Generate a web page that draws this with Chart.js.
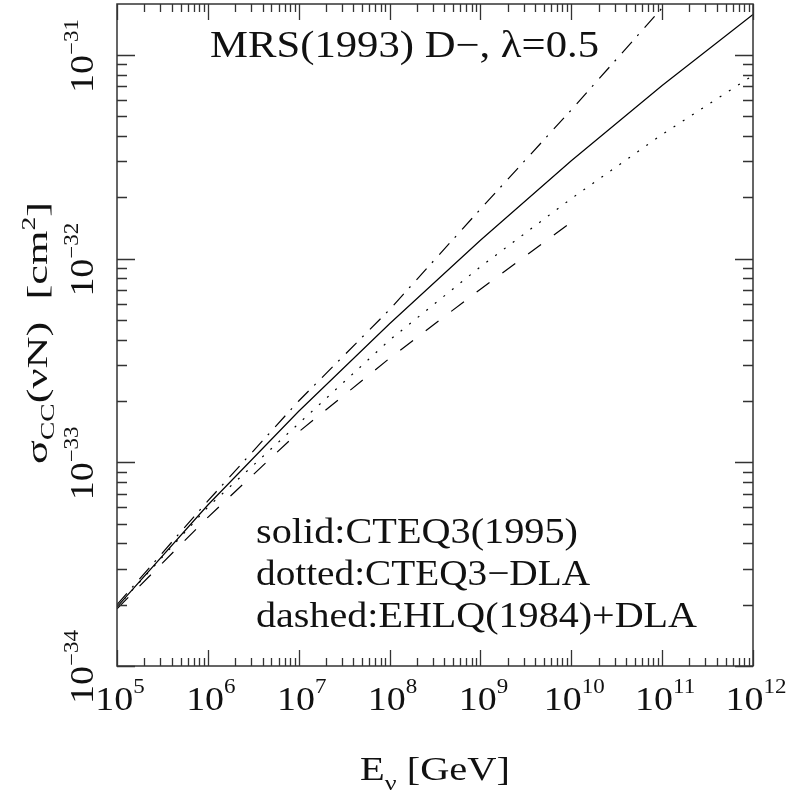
<!DOCTYPE html>
<html><head><meta charset="utf-8">
<script src="https://cdn.jsdelivr.net/npm/chart.js@4.4.1/dist/chart.umd.min.js"></script>
<style>html,body{margin:0;padding:0;background:#fff;}canvas{display:block;}</style>
</head><body>
<canvas id="c" width="803" height="792"></canvas>
<script>
// ---- data ----
const energies = [1e5, 1e6, 1e7, 1e8, 1e9, 1e10, 1e11, 1e12];
const solidCTEQ3 = [1.95e-34, 6.17e-34, 1.78e-33, 4.79e-33, 1.23e-32, 3.02e-32, 7.08e-32, 1.58e-31];
const dashDotMRS = [2.00e-34, 6.46e-34, 2.00e-33, 5.62e-33, 1.75e-32, 5.37e-32, 1.70e-31, 5.20e-31];
const dottedCTEQ3DLA = [1.95e-34, 6.03e-34, 1.55e-33, 3.98e-33, 9.12e-33, 1.97e-32, 4.07e-32, 7.94e-32];
const dashedEHLQ = [1.91e-34, 5.37e-34, 1.41e-33, 3.24e-33, 7.08e-33, 1.51e-32];
const xTickExps = [5, 6, 7, 8, 9, 10, 11, 12];
const yTickExps = [-34, -33, -32, -31];
const titleText = 'MRS(1993) D\u2212, \u03bb=0.5';
const legendLines = ['solid:CTEQ3(1995)', 'dotted:CTEQ3\u2212DLA', 'dashed:EHLQ(1984)+DLA'];
const xMin = 1e5, xMax = 1e12, yMin = 1e-34, yMax = 1.778e-31;

const FONT = '"Liberation Serif", "DejaVu Serif", serif';
const INK = '#111';

function toPts(arr) { return arr.map((v, i) => ({ x: energies[i], y: v })); }
function logTicks(min, max) {
  const out = [];
  const e0 = Math.floor(Math.log10(min)) - 1, e1 = Math.ceil(Math.log10(max)) + 1;
  for (let e = e0; e <= e1; e++) {
    for (let m = 1; m < 10; m++) {
      const v = m * Math.pow(10, e);
      if (v >= min * 0.9999 && v <= max * 1.0001) out.push({ value: v, major: m === 1 });
    }
  }
  return out;
}
function expStr(e) { return e < 0 ? '\u2212' + Math.abs(e) : String(e); }

// rich text: segs = [{t, size, dy}]
function drawRich(ctx, segs, x, y, o) {
  o = o || {};
  let total = 0;
  const widths = segs.map(s => { ctx.font = s.size + 'px ' + FONT; const w = ctx.measureText(s.t).width; total += w; return w; });
  const sx = o.width ? o.width / total : (o.sx || 1);
  ctx.save();
  ctx.translate(x, y);
  ctx.rotate(o.rot || 0);
  ctx.scale(sx, 1);
  let cx = o.align === 'center' ? -total / 2 : 0;
  ctx.fillStyle = INK;
  ctx.textBaseline = 'alphabetic';
  ctx.textAlign = 'left';
  segs.forEach((s, i) => { ctx.font = s.size + 'px ' + FONT; ctx.fillText(s.t, cx, s.dy || 0); cx += widths[i]; });
  ctx.restore();
}

const framePlugin = {
  id: 'frame',
  afterDraw(chart) {
    const ctx = chart.ctx, ca = chart.chartArea;
    const xs = chart.scales.x, ys = chart.scales.y;
    ctx.save();
    ctx.strokeStyle = '#333';
    ctx.lineWidth = 1.5;
    ctx.strokeRect(ca.left, ca.top, ca.right - ca.left, ca.bottom - ca.top);
    ctx.lineWidth = 1.3;
    ctx.beginPath();
    xs.ticks.forEach(t => {
      const p = Math.round(xs.getPixelForValue(t.value)) + 0.5;
      const L = t.major ? 16 : 8;
      ctx.moveTo(p, ca.bottom); ctx.lineTo(p, ca.bottom - L);
      ctx.moveTo(p, ca.top); ctx.lineTo(p, ca.top + L);
    });
    ys.ticks.forEach(t => {
      const p = Math.round(ys.getPixelForValue(t.value)) + 0.5;
      const L = t.major ? 18 : 10;
      ctx.moveTo(ca.left, p); ctx.lineTo(ca.left + L, p);
      ctx.moveTo(ca.right, p); ctx.lineTo(ca.right - L, p);
    });
    ctx.stroke();
    ctx.restore();

    // x tick labels
    xTickExps.forEach(e => {
      const p = xs.getPixelForValue(Math.pow(10, e));
      drawRich(ctx, [{ t: '10', size: 33 }, { t: expStr(e), size: 20, dy: -17 }], p + 3, ca.bottom + 44, { align: 'center', sx: 1.15 });
    });
    // y tick labels (rotated)
    yTickExps.forEach(e => {
      const p = ys.getPixelForValue(Math.pow(10, e));
      drawRich(ctx, [{ t: '10', size: 33 }, { t: expStr(e), size: 20, dy: -15 }], ca.left - 24, p + 38, { rot: -Math.PI / 2, sx: 1.15 });
    });
    // axis titles
    drawRich(ctx, [{ t: 'E', size: 34 }, { t: '\u03bd', size: 22, dy: 10 }, { t: ' [GeV]', size: 34 }],
      (ca.left + ca.right) / 2, ca.bottom + 114, { align: 'center', width: 150 });
    drawRich(ctx, [{ t: '\u03c3', size: 29 }, { t: 'CC', size: 18, dy: 7 }, { t: '(\u03bdN)  [cm', size: 29 }, { t: '2', size: 18, dy: -12 }, { t: ']', size: 29 }],
      47, 333, { rot: -Math.PI / 2, align: 'center', width: 262 });
    // in-plot texts
    drawRich(ctx, [{ t: titleText, size: 37 }], 210, 57, { width: 389 });
    const lx = 256, lb = [543, 585, 627], lw = [322, 334, 441];
    legendLines.forEach((s, i) => drawRich(ctx, [{ t: s, size: 36 }], lx, lb[i], { width: lw[i] }));
  }
};

const common = { borderColor: '#000', borderWidth: 1.2, pointRadius: 0, fill: false, tension: 0, clip: 0 };
const hiddenAxis = { ticks: { display: false }, grid: { display: false, drawTicks: false, tickLength: 0 }, border: { display: false } };
new Chart(document.getElementById('c'), {
  type: 'line',
  data: {
    datasets: [
      Object.assign({ label: 'CTEQ3(1995)', data: toPts(solidCTEQ3) }, common),
      Object.assign({ label: 'MRS(1993) D-', data: toPts(dashDotMRS), borderDash: [15, 8, 2, 9] }, common),
      Object.assign({ label: 'CTEQ3-DLA', data: toPts(dottedCTEQ3DLA), borderDash: [2, 9] }, common),
      Object.assign({ label: 'EHLQ(1984)+DLA', data: toPts(dashedEHLQ), borderDash: [16, 16] }, common)
    ]
  },
  options: {
    responsive: false, devicePixelRatio: 1, animation: false,
    layout: { padding: { left: 117, top: 4, right: 50, bottom: 126 } },
    plugins: { legend: { display: false }, tooltip: { enabled: false }, title: { display: false } },
    scales: {
      x: Object.assign({ type: 'logarithmic', min: xMin, max: xMax,
           afterBuildTicks: s => { s.ticks = logTicks(xMin, xMax); } }, hiddenAxis),
      y: Object.assign({ type: 'logarithmic', min: yMin, max: yMax,
           afterBuildTicks: s => { s.ticks = logTicks(yMin, yMax); } }, hiddenAxis)
    }
  },
  plugins: [framePlugin]
});
</script>
</body></html>
